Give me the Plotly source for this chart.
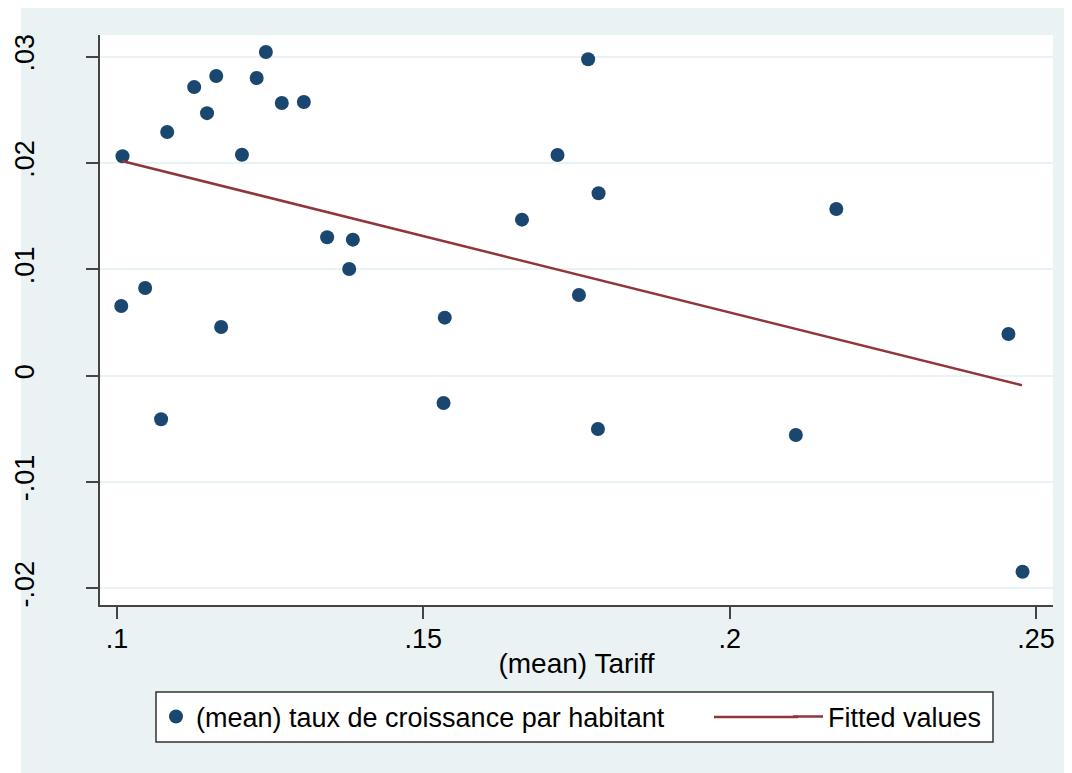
import plotly.graph_objects as go

# (mean) Tariff values
tariff = [0.1009, 0.1007, 0.1046, 0.1072, 0.1082, 0.1126, 0.1147, 0.1162, 0.1170,
          0.1204, 0.1228, 0.1243, 0.1269, 0.1305, 0.1343, 0.1379, 0.1385, 0.1535,
          0.1533, 0.1661, 0.1719, 0.1754, 0.1769, 0.1786, 0.1785, 0.2108, 0.2174,
          0.2455, 0.2478]
# (mean) taux de croissance par habitant
growth = [0.02064, 0.00655, 0.00825, -0.0041, 0.02292, 0.02715, 0.0247, 0.0282, 0.00458,
          0.02079, 0.02801, 0.03045, 0.02565, 0.02575, 0.01302, 0.01004, 0.0128, 0.00546,
          -0.00257, 0.01468, 0.02076, 0.00759, 0.02977, 0.01716, -0.00501, -0.00558, 0.01568,
          0.00392, -0.01844]

# Fitted values (line endpoints)
fit_x = [0.1008, 0.2477]
fit_y = [0.0202, -0.0009]

x_ticks = [0.10, 0.15, 0.20, 0.25]
x_ticktext = [".1", ".15", ".2", ".25"]
y_ticks = [-0.02, -0.01, 0.0, 0.01, 0.02, 0.03]
y_ticktext = ["-.02", "-.01", "0", ".01", ".02", ".03"]

BG = "#EAF2F3"
NAVY = "#1A476F"
MAROON = "#90353B"
FONT = "Liberation Sans, Arial, sans-serif"

# figure sits at an 8px page offset (default body margin)
W, H = 1064, 765
L, R, T, B = 92, 19, 27, 168
pw, ph = W - L - R, H - T - B


def px_x(p):
    return (p - L) / pw


def px_y(p):
    return (H - B - p) / ph


fig = go.Figure()
fig.add_trace(go.Scatter(
    x=tariff, y=growth, mode="markers",
    name="(mean) taux de croissance par habitant",
    marker=dict(color=NAVY, size=14, line=dict(width=0)),
    legend="legend",
))
fig.add_trace(go.Scatter(
    x=fit_x, y=fit_y, mode="lines", name="Fitted values",
    line=dict(color=MAROON, width=2.5),
    legend="legend2",
))

# white strip left of the outer graph region
fig.add_shape(type="rect", xref="paper", yref="paper", layer="below",
              x0=px_x(-2), x1=px_x(13), y0=px_y(H + 2), y1=px_y(-2),
              fillcolor="white", line=dict(width=0))
# legend frame
fig.add_shape(type="rect", xref="paper", yref="paper", layer="below",
              x0=px_x(148), x1=px_x(985), y0=px_y(734), y1=px_y(684),
              fillcolor="white", line=dict(color="#333333", width=1.5))
# longer key line for the fitted-values entry
fig.add_shape(type="line", xref="paper", yref="paper", layer="below",
              x0=px_x(706), x1=px_x(790), y0=px_y(709), y1=px_y(709),
              line=dict(color=MAROON, width=2.5))

leg_common = dict(
    orientation="h", yanchor="middle", xanchor="left",
    bgcolor="rgba(0,0,0,0)", borderwidth=0,
    font=dict(size=27, family=FONT, color="black"), itemsizing="trace",
)

fig.update_layout(
    width=W, height=H,
    margin=dict(l=L, r=R, t=T, b=B, pad=0, autoexpand=False),
    paper_bgcolor=BG, plot_bgcolor="white",
    font=dict(family=FONT, size=27, color="black"),
    showlegend=True,
    legend=dict(x=px_x(148), y=px_y(709), **leg_common),
    legend2=dict(x=px_x(780), y=px_y(709), **leg_common),
    xaxis=dict(
        range=[0.09723, 0.25277], tickvals=x_ticks, ticktext=x_ticktext,
        showgrid=False, zeroline=False,
        showline=True, linecolor="#444444", linewidth=1.5,
        ticks="outside", ticklen=12, tickwidth=1.5, tickcolor="#444444",
        tickfont=dict(size=27, family=FONT),
        ticklabelstandoff=-3,
        title=dict(text="(mean) Tariff", font=dict(size=28, family=FONT), standoff=0),
    ),
    yaxis=dict(
        range=[-0.02157, 0.03205], tickvals=y_ticks, ticktext=y_ticktext,
        showgrid=True, gridcolor=BG, gridwidth=2, zeroline=False,
        showline=True, linecolor="#444444", linewidth=1.5,
        ticks="outside", ticklen=12, tickwidth=1.5, tickcolor="#444444",
        tickangle=-90, tickfont=dict(size=27, family=FONT),
        ticklabelstandoff=41,
    ),
)

fig.write_html("out.html")
